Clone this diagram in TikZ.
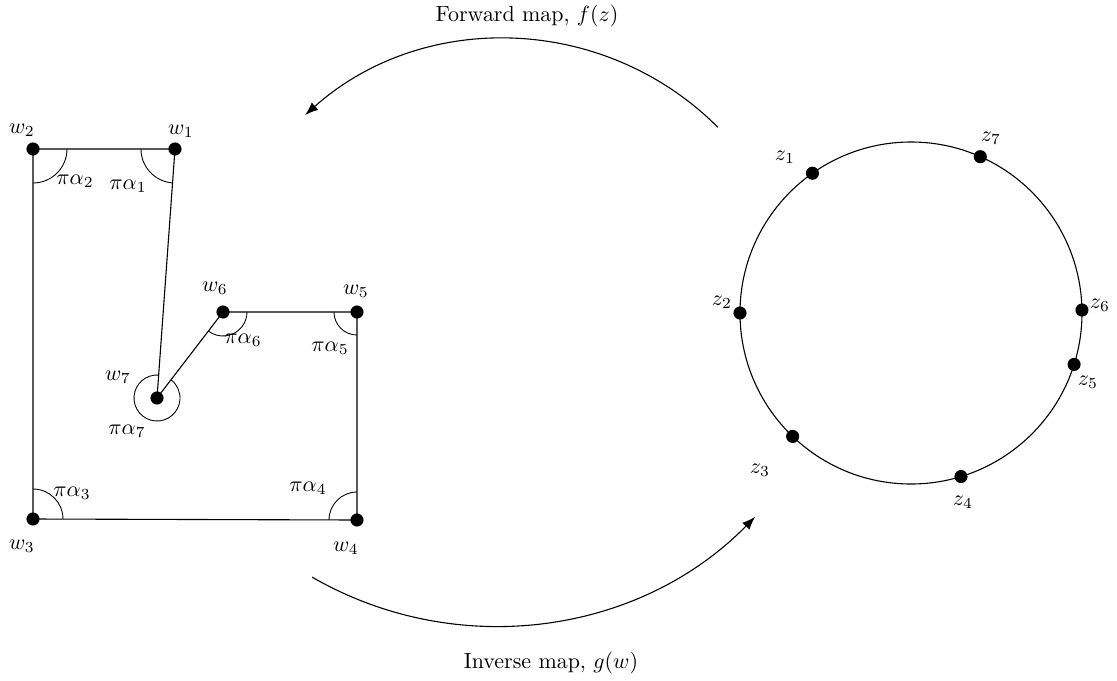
\documentclass[tikz,border=0pt]{standalone}
\usetikzlibrary{arrows.meta,calc}
\begin{document}
\begin{tikzpicture}[x=0.016cm,y=0.016cm,
  dot/.style={circle,fill=black,inner sep=0pt,minimum size=0.21cm},
  edge/.style={line width=0.5pt},
  angarc/.style={line width=0.4pt},
  maparrow/.style={line width=0.5pt,-{Latex[length=6pt,width=4.5pt]}},
  lbl/.style={inner sep=1pt}]
\useasboundingbox (0,0) rectangle (1117,-681);

% polygon vertices
\node[dot] (w1) at (175,-149) {};
\node[dot] (w2) at (33,-149) {};
\node[dot] (w3) at (33,-519) {};
\node[dot] (w4) at (357,-520) {};
\node[dot] (w5) at (357,-312) {};
\node[dot] (w6) at (223,-312) {};
\node[dot] (w7) at (157,-398) {};

% polygon edges
\draw[edge] (w1.center) -- (w2.center) -- (w3.center) -- (w4.center)
  -- (w5.center) -- (w6.center) -- (w7.center) -- (w1.center);

% interior angles
\draw[angarc] (w1.center) ++(180:34) arc (180:266:34);
\draw[angarc] (w2.center) ++(0:34) arc (0:-90:34);
\draw[angarc] (w3.center) ++(0:30) arc (0:90:30);
\draw[angarc] (w4.center) ++(90:28) arc (90:180:28);
\draw[angarc] (w5.center) ++(180:23) arc (180:270:23);
\draw[angarc] (w6.center) ++(232.5:24) arc (232.5:360:24);
\draw[angarc] (w7.center) ++(86:23) arc (86:412.5:23);

% vertex labels
\node[lbl] (lw1) at (181,-131) {$w_1$};
\node[lbl] (lw2) at (22,-130) {$w_2$};
\node[lbl] (lw3) at (22,-546) {$w_3$};
\node[lbl] (lw4) at (346,-548) {$w_4$};
\node[lbl] (lw5) at (356,-291) {$w_5$};
\node[lbl] (lw6) at (215,-288) {$w_6$};
\node[lbl] (lw7) at (118,-377) {$w_7$};

% angle labels
\node[lbl] (la1) at (128,-186) {$\pi\alpha_1$};
\node[lbl] (la2) at (75,-181) {$\pi\alpha_2$};
\node[lbl] (la3) at (72,-493) {$\pi\alpha_3$};
\node[lbl] (la4) at (308,-488) {$\pi\alpha_4$};
\node[lbl] (la5) at (330,-348) {$\pi\alpha_5$};
\node[lbl] (la6) at (243,-340) {$\pi\alpha_6$};
\node[lbl] (la7) at (127,-431) {$\pi\alpha_7$};

% unit circle with prevertices
\coordinate (C) at (911,-313);
\draw[edge] (C) circle (171);
\node[dot] (z1) at ($(C)+(125.2:171)$) {};
\node[dot] (z2) at ($(C)+(180:171)$) {};
\node[dot] (z3) at ($(C)+(-133.8:171)$) {};
\node[dot] (z4) at ($(C)+(-73:171)$) {};
\node[dot] (z5) at ($(C)+(-17.5:171)$) {};
\node[dot] (z6) at ($(C)+(1:171)$) {};
\node[dot] (z7) at ($(C)+(66.1:171)$) {};

\node[lbl] (lz1) at (785,-157) {$z_1$};
\node[lbl] (lz2) at (722,-302) {$z_2$};
\node[lbl] (lz3) at (760,-470) {$z_3$};
\node[lbl] (lz4) at (963,-502) {$z_4$};
\node[lbl] (lz5) at (1088,-382) {$z_5$};
\node[lbl] (lz6) at (1100,-305) {$z_6$};
\node[lbl] (lz7) at (991,-138) {$z_7$};

% the two maps, drawn as circular arcs
\coordinate (fs) at (717.8,-127.2);
\coordinate (gs) at (312.1,-577.1);
\draw[maparrow] (fs) arc[start angle=45,end angle=131.6,radius=301] coordinate (fe);
\draw[maparrow] (gs) arc[start angle=-120,end angle=-44.5,radius=365.2] coordinate (ge);

\node (fl) at (527,-16) {Forward map, $f(z)$};
\node (gl) at (551,-663) {Inverse map, $g(w)$};
\end{tikzpicture}
\end{document}
